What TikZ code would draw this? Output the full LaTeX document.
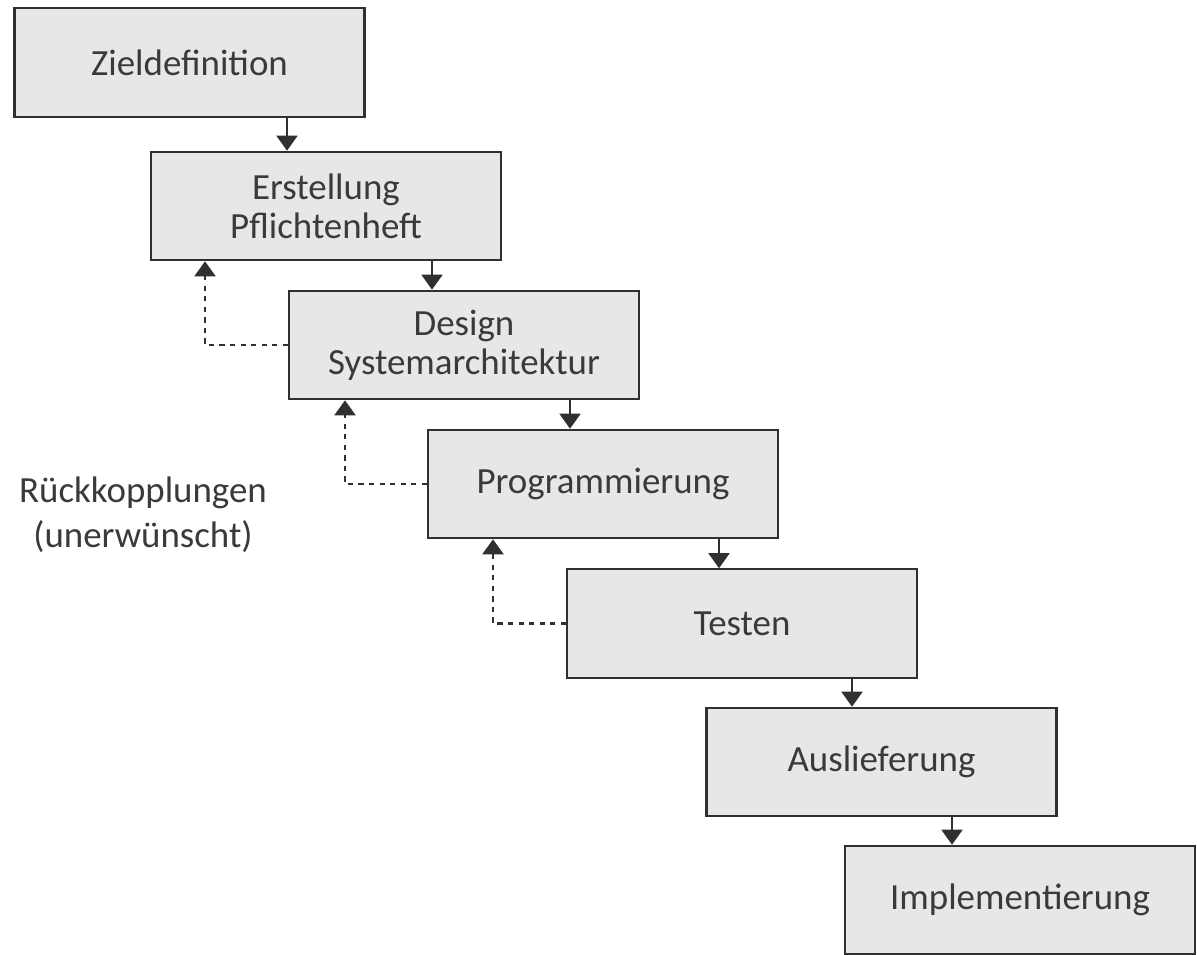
\documentclass[tikz,border=0pt]{standalone}
\usepackage{fontspec}
\setmainfont{Carlito}
\usepackage{xcolor}
\usetikzlibrary{calc,arrows.meta}
\definecolor{boxgray}{HTML}{E7E7E7}
\definecolor{linegray}{HTML}{303030}
\definecolor{textgray}{HTML}{3A3A3A}

\begin{document}
\begin{tikzpicture}[
	phase/.style={draw=linegray,line width=1.2pt,fill=boxgray,minimum width=7cm,
		minimum height=2.17cm,align=center,text=textgray,
		font=\fontsize{21}{22}\selectfont},
	flow/.style={draw=linegray,line width=1pt,-{Triangle[width=0.42cm,length=0.3cm]}},
	back/.style={flow,line width=1.2pt,dash pattern=on 3pt off 3pt}
]
% (Z)
%   \
%   (P) 
%  ^  \
%  :..(D) 
%    ^  \
%    :..(G) ...

	\useasboundingbox (0,0) rectangle (23.94,-19.08);

	\node[phase] (ziel)    at (3.79,-1.25)  {Zieldefinition};
	\node[phase] (pflicht) at (6.52,-4.12)  {Erstellung\\Pflichtenheft};
	\node[phase] (design)  at (9.28,-6.90)  {Design\\Systemarchitektur};
	\node[phase] (prog)    at (12.06,-9.68) {Programmierung};
	\node[phase] (test)    at (14.84,-12.47) {Testen};
	\node[phase] (liefer)  at (17.63,-15.24) {Auslieferung};
	\node[phase] (impl)    at (20.40,-18.00) {Implementierung};

	% Ablauf
	\coordinate (a1) at ($(ziel.south)+(1.95,0)$);
	\coordinate (a2) at ($(pflicht.south)+(2.12,0)$);
	\coordinate (a3) at ($(design.south)+(2.12,0)$);
	\coordinate (a4) at ($(prog.south)+(2.32,0)$);
	\coordinate (a5) at ($(test.south)+(2.2,0)$);
	\coordinate (a6) at ($(liefer.south)+(1.41,0)$);
	\draw[flow] (a1) -- (a1 |- pflicht.north);
	\draw[flow] (a2) -- (a2 |- design.north);
	\draw[flow] (a3) -- (a3 |- prog.north);
	\draw[flow] (a4) -- (a4 |- test.north);
	\draw[flow] (a5) -- (a5 |- liefer.north);
	\draw[flow] (a6) -- (a6 |- impl.north);

	% Rueckkopplungen
	\coordinate (r1) at ($(pflicht.south)+(-2.42,0)$);
	\coordinate (r2) at ($(design.south)+(-2.38,0)$);
	\coordinate (r3) at ($(prog.south)+(-2.2,0)$);
	\draw[back] (design.west) -| (r1);
	\draw[back] (prog.west)   -| (r2);
	\draw[back] (test.west)   -| (r3);

	\node[align=center,text=textgray,font=\fontsize{21}{25.5}\selectfont] (rueck) at (2.86,-10.3)
		{Rückkopplungen\\(unerwünscht)};

\end{tikzpicture}
\end{document}
